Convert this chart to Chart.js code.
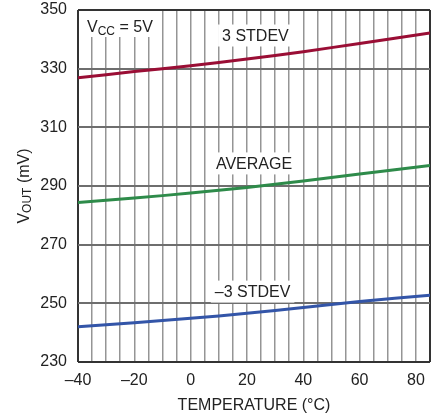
<!DOCTYPE html>
<html>
<head>
<meta charset="utf-8">
<script src="https://cdn.jsdelivr.net/npm/chart.js@4"></script>
<style>
  html, body { margin: 0; padding: 0; background: #fff; }
  #wrap { width: 437px; height: 418px; }
</style>
</head>
<body>
<div id="wrap"><canvas id="chart" width="437" height="418"></canvas></div>
<script>
// temperature (°C) and output voltage (mV)
var temps = [-40, -20, 0, 20, 40, 60, 85];
var plus3 = [326.9, 329.0, 331.0, 333.3, 335.8, 338.6, 342.2];
var average = [284.4, 285.9, 287.6, 289.5, 291.7, 294.1, 297.0];
var minus3 = [242.0, 243.4, 244.9, 246.6, 248.6, 250.6, 252.8];

var xTicks = [-40, -20, 0, 20, 40, 60, 80];
var yTicks = [230, 250, 270, 290, 310, 330, 350];

var FONT = "'Liberation Sans', Arial, sans-serif";
var FS = 16;

function pts(ys) {
  return temps.map(function (t, i) { return { x: t, y: ys[i] }; });
}

// text notes on the plot: [label, x value, y value]
var notes = [
  ["3 STDEV", 23, 341.3],
  ["AVERAGE", 22.5, 297.7],
  ["\u20133 STDEV", 22, 254.0]
];

var notesPlugin = {
  id: "notes",
  beforeDatasetsDraw: function (chart) {
    var c = chart.ctx, xs = chart.scales.x, ys = chart.scales.y;
    c.save();
    c.font = FS + "px " + FONT;
    c.textAlign = "center";
    c.textBaseline = "middle";
    notes.forEach(function (n) {
      var px = xs.getPixelForValue(n[1]);
      var py = ys.getPixelForValue(n[2]);
      var w = c.measureText(n[0]).width;
      c.fillStyle = "#fff";
      c.fillRect(px - w / 2 - 4, py - 11, w + 8, 22);
      c.fillStyle = "#222";
      c.fillText(n[0], px, py + 1);
    });

    // VCC = 5V box in the top-left corner
    var left = chart.chartArea.left, top = chart.chartArea.top;
    c.fillStyle = "#fff";
    c.fillRect(left + 1, top + 1, 80, 26);
    c.fillStyle = "#222";
    c.textAlign = "left";
    c.textBaseline = "alphabetic";
    var x = left + 9, y = top + 22;
    c.font = FS + "px " + FONT;
    c.fillText("V", x, y);
    x += c.measureText("V").width;
    c.font = "12px " + FONT;
    c.fillText("CC", x, y + 3);
    x += c.measureText("CC").width;
    c.font = FS + "px " + FONT;
    c.fillText(" = 5V", x, y);

    // y axis title with subscript
    c.translate(24, (chart.chartArea.top + chart.chartArea.bottom) / 2);
    c.rotate(-Math.PI / 2);
    var parts = [["V", FS, 0], ["OUT", 12, 3], [" (mV)", FS, 0]];
    var total = 0;
    parts.forEach(function (p) { c.font = p[1] + "px " + FONT; total += c.measureText(p[0]).width; });
    var sx = -total / 2;
    c.textBaseline = "middle";
    parts.forEach(function (p) {
      c.font = p[1] + "px " + FONT;
      c.fillText(p[0], sx, p[2] + 1);
      sx += c.measureText(p[0]).width;
    });
    c.restore();
  }
};

new Chart(document.getElementById("chart").getContext("2d"), {
  type: "line",
  data: {
    datasets: [
      { label: "3 STDEV", data: pts(plus3), borderColor: "#9a0e35", borderWidth: 3, pointRadius: 0, fill: false, tension: 0.4 },
      { label: "AVERAGE", data: pts(average), borderColor: "#2e8b4a", borderWidth: 3, pointRadius: 0, fill: false, tension: 0.4 },
      { label: "-3 STDEV", data: pts(minus3), borderColor: "#3355a8", borderWidth: 3, pointRadius: 0, fill: false, tension: 0.4 }
    ]
  },
  options: {
    responsive: false,
    animation: false,
    layout: { padding: { top: 10, right: 7, bottom: 1, left: 0 } },
    plugins: { legend: { display: false }, tooltip: { enabled: false } },
    scales: {
      x: {
        type: "linear",
        min: -40,
        max: 85,
        afterFit: function (s) { s.height = 55; s.paddingLeft = 0; s.paddingRight = 0; },
        ticks: {
          stepSize: 5,
          autoSkip: false,
          maxRotation: 0,
          padding: 9,
          color: "#222",
          font: { family: FONT, size: FS },
          callback: function (v) {
            return xTicks.indexOf(v) >= 0 ? String(v).replace("-", "\u2013") : "";
          }
        },
        grid: {
          drawTicks: false,
          color: function (ctx) { return (ctx.tick && (ctx.tick.value === -40 || ctx.tick.value === 85)) ? "#333" : "#959595"; },
          lineWidth: function (ctx) { return (ctx.tick && (ctx.tick.value === -40 || ctx.tick.value === 85)) ? 2 : 1.5; }
        },
        border: { display: false },
        title: { display: true, text: "TEMPERATURE (\u00b0C)", color: "#222", font: { family: FONT, size: FS }, padding: { top: 0, bottom: 2 } }
      },
      y: {
        min: 230,
        max: 350,
        afterFit: function (s) { s.width = 78; s.paddingTop = 0; s.paddingBottom = 0; },
        afterBuildTicks: function (s) { s.ticks = yTicks.map(function (v) { return { value: v }; }); },
        ticks: {
          padding: 11,
          color: "#222",
          font: { family: FONT, size: FS }
        },
        grid: {
          drawTicks: false,
          color: function (ctx) { return (ctx.tick && (ctx.tick.value === 230 || ctx.tick.value === 350)) ? "#333" : "#6e6e6e"; },
          lineWidth: 2
        },
        border: { display: false }
      }
    }
  },
  plugins: [notesPlugin]
});
</script>
</body>
</html>
